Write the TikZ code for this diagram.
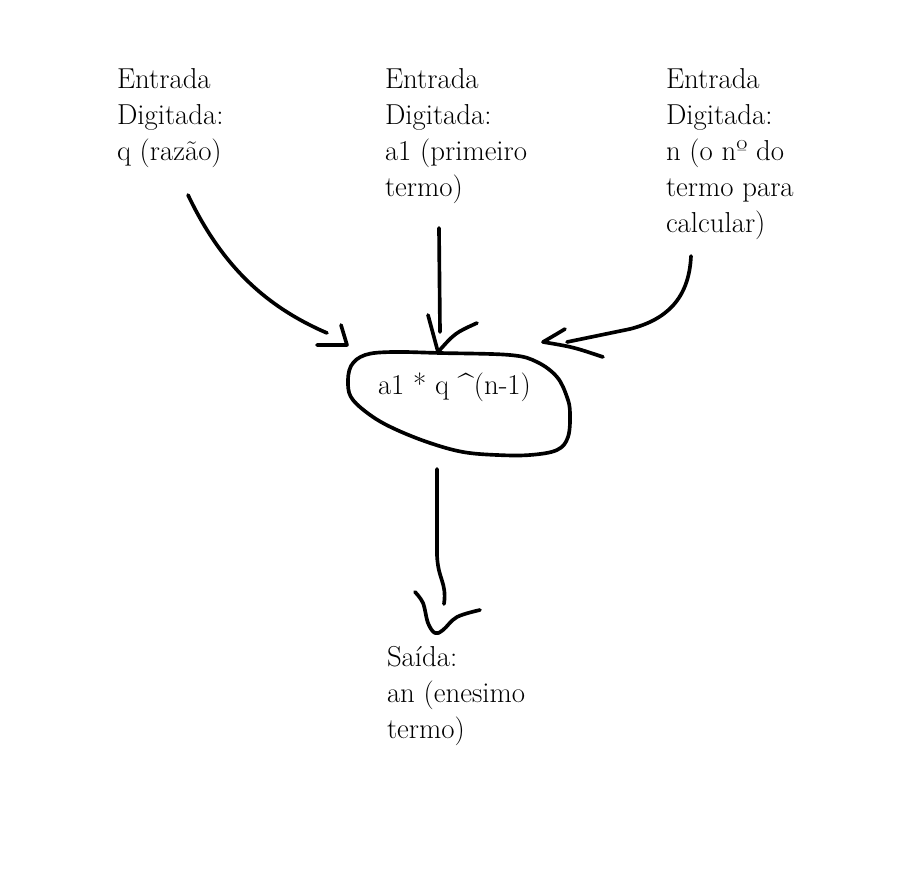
\documentclass[tikz,border=0pt]{standalone}
\begin{document}
\begin{tikzpicture}[x=0.025cm, y=-0.025cm]
\tikzset{ hand/.style={line width=2.6pt, line cap=round, line join=round},
  txt/.style={anchor=north west, align=left, inner sep=0pt, outer sep=0pt,
    font=\fontsize{20.5}{25.6}\selectfont} }

\useasboundingbox (0,0) rectangle (916,886);

%%% Textos

% entradas
\node [txt] (entq)  at (117,68) {Entrada\\Digitada:\\q (razão)};
\node [txt] (enta1) at (385,68) {Entrada\\Digitada:\\a1 (primeiro\\termo)};
\node [txt] (entn)  at (666,68) {Entrada\\Digitada:\\n (o nº do\\termo para\\calcular)};

% formula
\node [txt] (formula) at (378,373) {a1 * q \textasciicircum(n-1)};

% saida
\node [txt] (saida) at (387,646) {Saída:\\an (enesimo\\termo)};

%%% Bloco (desenho a mao)
\draw [hand] plot [smooth cycle, tension=0.6] coordinates {
  (392,352) (440,353) (510,355) (537,362) (557,377) (567,397) (570,413)
  (568,437) (557,450) (530,455) (497,455) (463,452) (430,443) (397,430)
  (373,417) (353,400) (348,385) (351,366) (365,355)};

%%% Setas

% q -> formula
\coordinate (q-tail) at (188,195);
\coordinate (q-end)  at (327,333);
\coordinate (q-tip)  at (347,345);
\draw [hand] (q-tail) .. controls (220,262) and (262,305) .. (q-end);
\draw [hand] (317,345) -- (q-tip) -- (341,325);

% a1 -> formula
\coordinate (a1-tail) at (439,228);
\coordinate (a1-end)  at (440,332);
\coordinate (a1-tip)  at (438,352);
\draw [hand] (a1-tail) -- (a1-end);
\draw [hand] (428,315) .. controls (433,333) .. (a1-tip);
\draw [hand] (477,323) .. controls (455,333) .. (a1-tip);

% n -> formula
\coordinate (n-tail) at (691,256);
\coordinate (n-end)  at (567,342);
\coordinate (n-tip)  at (543,342);
\draw [hand] (n-tail) .. controls (689,300) and (665,320) .. (630,329) -- (n-end);
\draw [hand] (565,329) .. controls (555,335) .. (n-tip) .. controls (573,347) .. (603,357);

% formula -> saida
\coordinate (out-tail) at (437,469);
\coordinate (out-end)  at (444,604);
\draw [hand] (out-tail) -- (437,555) .. controls (438,580) and (447,582) .. (out-end);
\draw [hand] plot [smooth, tension=0.6] coordinates {
  (415,592) (423,603) (428,623) (435,633) (443,630) (457,617) (480,610)};

\end{tikzpicture}
\end{document}
